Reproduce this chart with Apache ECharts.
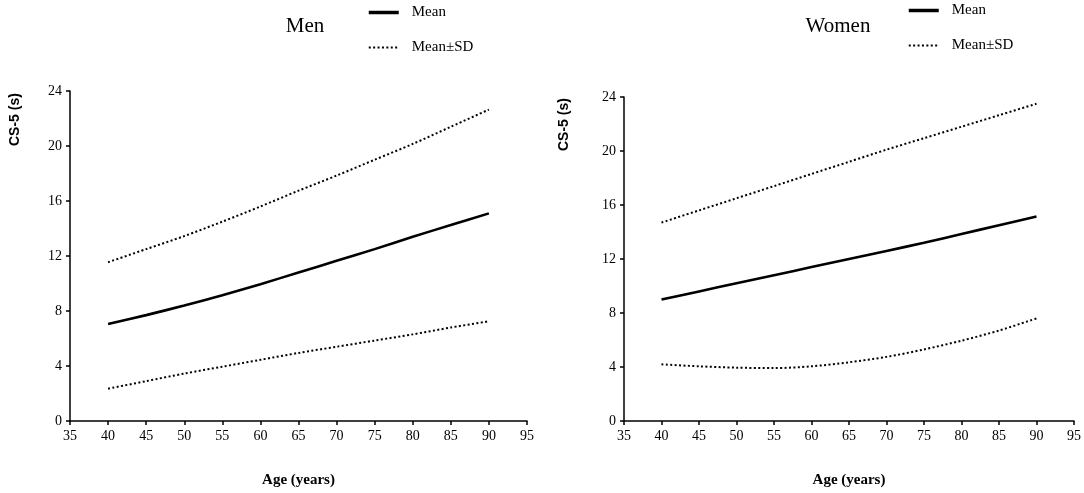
<!DOCTYPE html>
<html>
<head>
<meta charset="utf-8">
<script src="https://cdn.jsdelivr.net/npm/echarts@6/dist/echarts.min.js"></script>
<style>html,body{margin:0;padding:0;background:#fff}#c{width:1084px;height:493px}</style>
</head>
<body>
<div id="c"></div>
<script>
const ages = [40, 45, 50, 55, 60, 65, 70, 75, 80, 85, 90];
const xTicks = [35, 40, 45, 50, 55, 60, 65, 70, 75, 80, 85, 90, 95];
const yTicks = [0, 4, 8, 12, 16, 20, 24];
const panelTitles = ['Men', 'Women'];
const menMean  = [7.05, 7.7, 8.4, 9.15, 9.95, 10.8, 11.65, 12.5, 13.4, 14.25, 15.1];
const menUpper = [11.55, 12.5, 13.45, 14.5, 15.6, 16.75, 17.85, 19.0, 20.15, 21.4, 22.65];
const menLower = [2.35, 2.9, 3.45, 3.95, 4.45, 4.95, 5.4, 5.85, 6.3, 6.8, 7.25];
const womenMean  = [9.0, 9.6, 10.2, 10.8, 11.4, 12.0, 12.6, 13.2, 13.85, 14.5, 15.15];
const womenUpper = [14.7, 15.6, 16.5, 17.4, 18.3, 19.2, 20.1, 20.95, 21.8, 22.65, 23.5];
const womenLower = [4.2, 4.05, 3.95, 3.92, 4.05, 4.35, 4.75, 5.3, 5.95, 6.7, 7.6];

const pair = arr => ages.map((a, i) => [a, arr[i]]);
const serif = '"Liberation Serif", "Times New Roman", serif';
const sans = '"Liberation Sans", Arial, sans-serif';

const meanStyle = { color: '#000', width: 2.6 };
const sdStyle = { color: '#000', width: 2, type: [2, 2.4] };

function xAxis(gi) {
  return {
    type: 'value', gridIndex: gi, min: 35, max: 95, interval: 5,
    name: 'Age (years)', nameLocation: 'middle', nameGap: 52,
    nameTextStyle: { fontFamily: serif, fontWeight: 'bold', fontSize: 15, color: '#000' },
    axisLine: { lineStyle: { color: '#000', width: 1.5 } },
    axisTick: { show: true, length: 4, lineStyle: { color: '#000', width: 1.5 } },
    axisLabel: { fontFamily: serif, fontSize: 14, color: '#000', margin: 8 },
    splitLine: { show: false }
  };
}
function yAxis(gi) {
  return {
    type: 'value', gridIndex: gi, min: 0, max: 24, interval: 4,
    axisLine: { show: true, lineStyle: { color: '#000', width: 1.5 } },
    axisTick: { show: true, length: 4, lineStyle: { color: '#000', width: 1.5 } },
    axisLabel: { fontFamily: serif, fontSize: 14, color: '#000', margin: 8 },
    splitLine: { show: false }
  };
}
function ser(name, data, gi, style) {
  return {
    type: 'line', name: name, data: pair(data), xAxisIndex: gi, yAxisIndex: gi,
    smooth: 0.3, symbol: 'none', lineStyle: style, itemStyle: { color: '#000' },
    silent: true, animation: false
  };
}
function legend(left, top) {
  return {
    left: left, top: top, orient: 'vertical', itemWidth: 30, itemHeight: 14, itemGap: 20,
    data: [{ name: 'Mean', lineStyle: { width: 3.5 } }, { name: 'Mean±SD' }],
    itemStyle: { opacity: 0 },
    textStyle: { fontFamily: serif, fontSize: 15, color: '#000', padding: [0, 0, 0, 8] },
    selectedMode: false
  };
}

const chart = echarts.init(document.getElementById('c'));
chart.setOption({
  animation: false,
  title: [
    { text: panelTitles[0], left: 300, top: 11, textAlign: 'center', textStyle: { fontFamily: serif, fontSize: 21, fontWeight: 'normal', color: '#000' } },
    { text: panelTitles[1], left: 833, top: 11, textAlign: 'center', textStyle: { fontFamily: serif, fontSize: 21, fontWeight: 'normal', color: '#000' } }
  ],
  legend: [legend(362, 0), legend(902, -2)],
  grid: [
    { left: 70, right: 557, top: 91, bottom: 72 },
    { left: 624, right: 7, top: 97, bottom: 71 }
  ],
  xAxis: [xAxis(0), xAxis(1)],
  yAxis: [yAxis(0), yAxis(1)],
  graphic: [
    { type: 'text', x: 8, y: 146, rotation: Math.PI / 2, style: { text: 'CS-5 (s)', font: 'bold 14px ' + sans, fill: '#000', align: 'left', verticalAlign: 'top' } },
    { type: 'text', x: 557, y: 151, rotation: Math.PI / 2, style: { text: 'CS-5 (s)', font: 'bold 14px ' + sans, fill: '#000', align: 'left', verticalAlign: 'top' } }
  ],
  series: [
    ser('Mean', menMean, 0, meanStyle),
    ser('Mean±SD', menUpper, 0, sdStyle),
    ser('Mean±SD', menLower, 0, sdStyle),
    ser('Mean', womenMean, 1, meanStyle),
    ser('Mean±SD', womenUpper, 1, sdStyle),
    ser('Mean±SD', womenLower, 1, sdStyle)
  ]
});
</script>
</body>
</html>
